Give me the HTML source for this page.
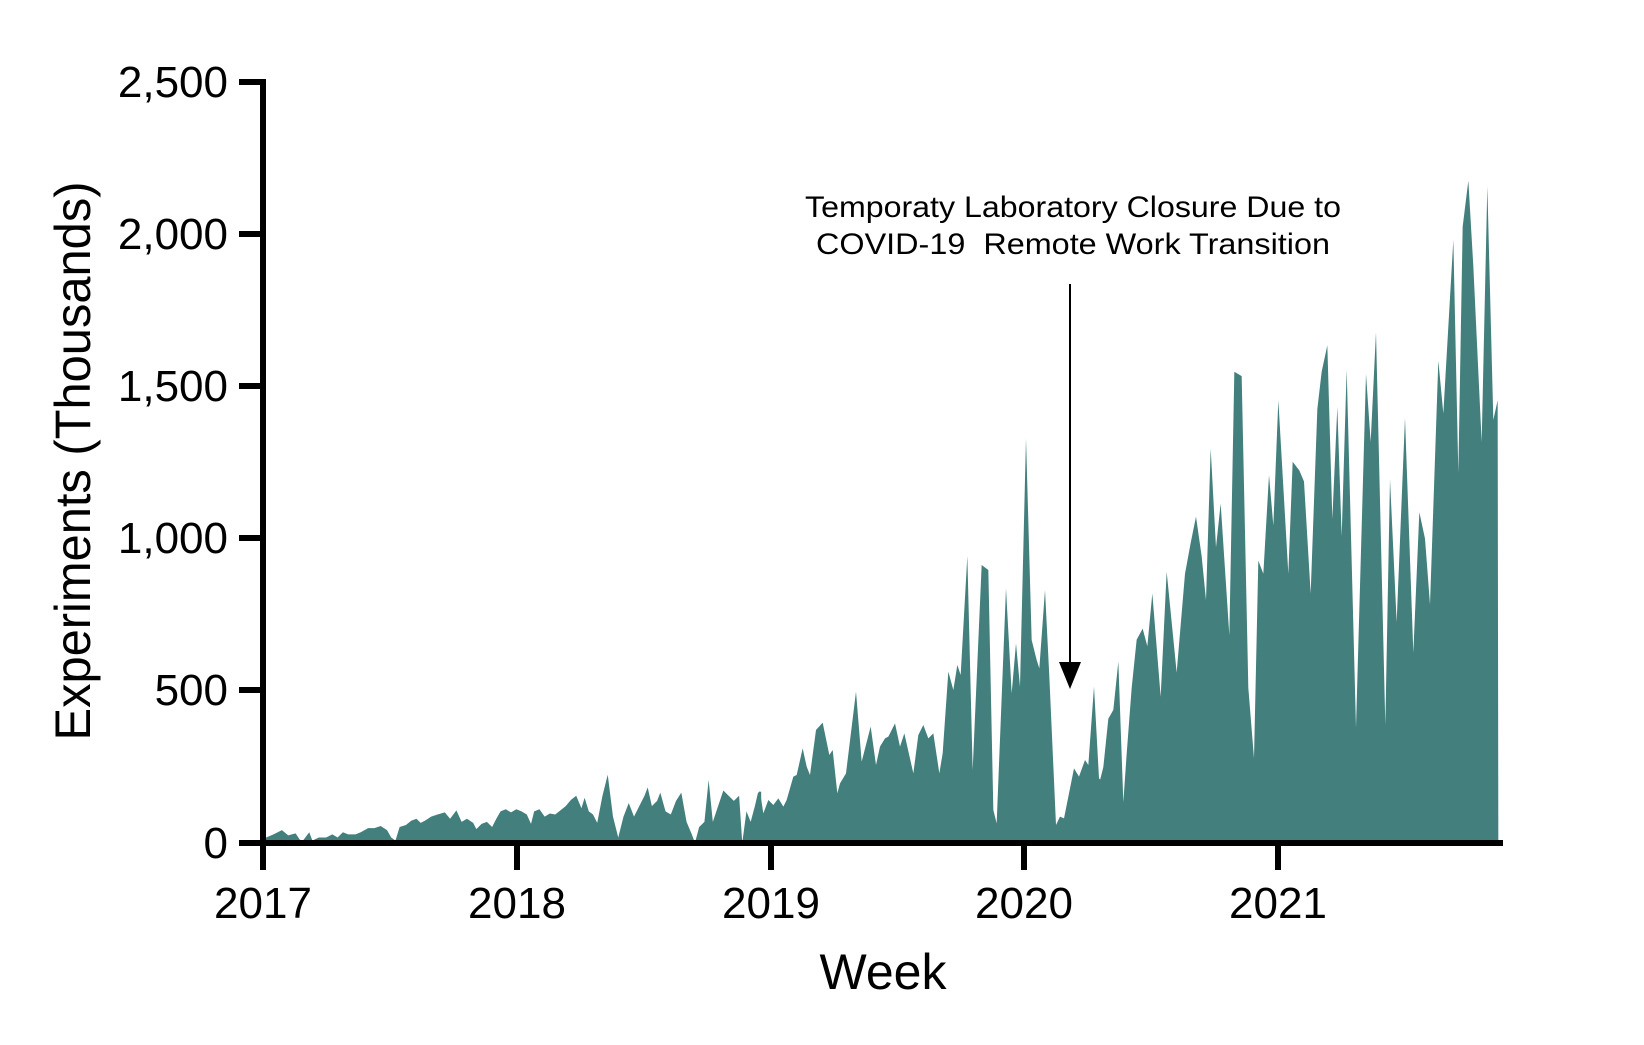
<!DOCTYPE html>
<html><head><meta charset="utf-8"><style>
html,body{margin:0;padding:0;background:#fff;}
svg{display:block;font-family:"Liberation Sans",Arial,sans-serif;}
</style></head><body>
<svg width="1644" height="1045" viewBox="0 0 1644 1045" xmlns="http://www.w3.org/2000/svg">
<g fill="#437f7d">
<g transform="matrix(1.051 0 0 1.045 -1.85 1.5)">
<polygon points="252,805.3 252,805 255,800 262,797 270,793 276,798 283,796 287,802 290,803 296,795 299,803 305,800 312,800 318,797 323,800 328,795 333,797 340,797 345,795 352,791 358,791 364,789 370,793 374,800 378,803 382,790 388,788 393,784 398,782 402,786 406,784 412,780 418,778 425,776 430,782 436,774 441,785 446,782 452,786 455,792 460,787 465,785 470,790 474,782 478,775 483,773 488,776 493,773 498,775 503,778 507,787 510,775 515,773 520,780 525,777 530,778 535,774 540,770 545,764 550,760 555,772 558,762 562,775 566,778 570,786 575,760 580,740 585,780 590,800 595,780 600,767 605,780 610,770 615,760 618,752 622,770 627,765 630,757 635,775 640,778 645,765 650,757 655,785 660,797 663,805 667,790 672,785 676,745 680,785 685,770 690,755 695,760 700,765 705,760 708,805 712,775 716,785 720,770 723,757 726,756 726,805.3"/>
</g>
<g transform="matrix(0.33333 0 0 0.33333 760 400)">
<polygon points="-3,1329 -3,1175 0,1175 10,1240 25,1200 40,1215 55,1195 70,1220 80,1200 100,1130 110,1125 128,1045 140,1100 150,1125 168,990 188,968 208,1065 218,1050 232,1180 240,1150 258,1120 288,875 305,1085 332,980 348,1095 360,1040 375,1015 385,1010 405,970 420,1040 433,1000 460,1120 475,1005 490,975 505,1015 520,1000 538,1120 548,1060 565,815 580,870 592,795 602,825 622,468 638,1110 665,495 685,510 700,1230 710,1270 738,565 755,880 768,730 780,860 798,115 815,720 830,780 838,805 855,570 868,830 888,1275 900,1250 912,1255 942,1105 957,1130 975,1080 985,1095 1002,860 1017,1135 1022,1140 1022,1329"/>
</g>
<g transform="matrix(0.33333 0 0 0.4392 1100 160.92)">
<polygon points="0,1553 0,1410 10,1380 25,1270 40,1250 55,1140 70,1460 80,1350 95,1200 110,1090 128,1065 142,1105 157,985 182,1220 200,935 230,1165 255,940 272,870 288,810 305,900 318,1000 332,655 348,880 362,780 388,1080 403,480 425,490 445,1200 462,1360 475,910 490,940 507,715 520,830 535,545 565,940 578,685 598,705 612,730 632,985 652,565 665,480 682,420 697,815 712,560 725,855 740,475 768,1290 798,485 812,640 828,390 856,1285 870,725 890,1050 915,585 940,1120 958,800 975,860 990,1010 1015,455 1030,575 1060,180 1075,710 1088,150 1105,45 1120,240 1145,640 1162,58 1180,590 1193,545 1195,1553"/>
</g>
</g>
<g stroke="#000" stroke-width="6" fill="none">
<line x1="263" y1="79" x2="263" y2="846"/>
<line x1="260" y1="843" x2="1503" y2="843"/>
<line x1="239" y1="82" x2="263" y2="82"/>
<line x1="239" y1="234" x2="263" y2="234"/>
<line x1="239" y1="386" x2="263" y2="386"/>
<line x1="239" y1="538" x2="263" y2="538"/>
<line x1="239" y1="690" x2="263" y2="690"/>
<line x1="239" y1="843" x2="263" y2="843"/>
<line x1="263" y1="843" x2="263" y2="870"/>
<line x1="517" y1="843" x2="517" y2="870"/>
<line x1="771" y1="843" x2="771" y2="870"/>
<line x1="1024" y1="843" x2="1024" y2="870"/>
<line x1="1278" y1="843" x2="1278" y2="870"/>
</g>
<g font-size="44" text-anchor="end" fill="#000">
<text x="228" y="97">2,500</text>
<text x="228" y="249">2,000</text>
<text x="228" y="401">1,500</text>
<text x="228" y="553">1,000</text>
<text x="228" y="705">500</text>
<text x="228" y="858">0</text>
</g>
<g font-size="44" text-anchor="middle" fill="#000">
<text x="263" y="918">2017</text>
<text x="517" y="918">2018</text>
<text x="771" y="918">2019</text>
<text x="1024" y="918">2020</text>
<text x="1278" y="918">2021</text>
</g>
<text x="883" y="989" font-size="50" text-anchor="middle">Week</text>
<text transform="translate(90,461) rotate(-90)" font-size="50" text-anchor="middle" textLength="559" lengthAdjust="spacingAndGlyphs">Experiments (Thousands)</text>
<text x="1073" y="217" font-size="30" text-anchor="middle" textLength="536" lengthAdjust="spacingAndGlyphs">Temporaty Laboratory Closure Due to</text>
<text x="1073" y="254" font-size="30" text-anchor="middle" textLength="514" lengthAdjust="spacingAndGlyphs" xml:space="preserve">COVID-19  Remote Work Transition</text>
<line x1="1070" y1="284" x2="1070" y2="665" stroke="#000" stroke-width="2"/>
<polygon points="1059,662 1081,662 1070,689" fill="#000"/>
</svg>
</body></html>
